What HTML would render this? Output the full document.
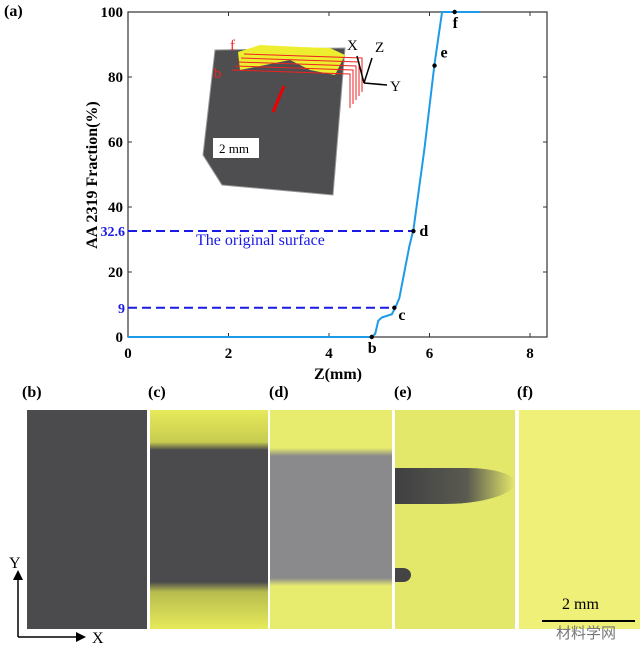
<!DOCTYPE html>
<html><head><meta charset="utf-8"><style>
body{margin:0;background:#fff;width:641px;height:661px;overflow:hidden;font-family:"Liberation Serif",serif}
.lbl{position:absolute;font-weight:bold;font-size:16px}
.pn{position:absolute;top:410px;height:219px;overflow:hidden}
</style></head><body>
<svg width="641" height="661" style="position:absolute;left:0;top:0">
<g id="chart"></g>
</svg>
<div class="lbl" style="left:4px;top:3px">(a)</div>
<div class="lbl" style="left:22px;top:384px">(b)</div>
<div class="lbl" style="left:148px;top:384px">(c)</div>
<div class="lbl" style="left:269px;top:384px">(d)</div>
<div class="lbl" style="left:394px;top:384px">(e)</div>
<div class="lbl" style="left:517px;top:384px">(f)</div>

<div class="pn" style="left:27px;width:120px;background:#4b4b4d"></div>
<div class="pn" style="left:150px;width:118px;background:linear-gradient(#e6ea5a 0,#c8cc50 32px,#4b4b4d 40px,#4b4b4d 172px,#b8bc4e 182px,#e6ea5a 219px)"></div>
<div class="pn" style="left:270px;width:122px;background:linear-gradient(#e8ec6e 0,#e8ec6e 38px,#8a8a8c 46px,#8a8a8c 168px,#e8ec6e 176px)"></div>
<div class="pn" style="left:395px;width:120px;background:#e4e86a">
<div style="position:absolute;left:0;top:58px;width:120px;height:36px;background:linear-gradient(90deg,#3f3f42,#5a5a50 60%,#e4e86a 100%);border-radius:0 40% 60% 0"></div>
<div style="position:absolute;left:0;top:158px;width:16px;height:14px;background:#444;border-radius:0 50% 50% 0"></div>
</div>
<div class="pn" style="left:519px;width:121px;background:#eef078"></div>
<div style="position:absolute;left:562px;top:596px;font-size:16px">2 mm</div>
<div style="position:absolute;left:542px;top:620px;width:93px;height:2px;background:#000"></div>
<div style="position:absolute;left:556px;top:622px;font-size:15px;color:#777;font-family:'Liberation Sans','Noto Sans CJK SC',sans-serif">材料学网</div>

<script>
const xTicks=[0,2,4,6,8];
const yTicks=[0,20,40,60,80,100];
const zVals=[0,4.85,4.92,4.98,5.05,5.15,5.25,5.32,5.4,5.5,5.6,5.68,5.9,6.1,6.25,7.0];
const fracVals=[0,0,1,5,6,6.5,7,9,12,20,28,33,58,84,100,100];
const markZ=[4.85,5.3,5.68,6.1,6.5];
const markF=[0,9,32.6,83.5,100];
const markLbl=['b','c','d','e','f'];
const refF=[9,32.6];
const refZ=[5.3,5.68];
const L=128,R=547,T=12,B=337;
const X=v=>L+(v/8)*(530-L);
const Y=v=>B-(v/100)*(B-T);
const g=document.getElementById('chart');
const NS='http://www.w3.org/2000/svg';
function mk(t,a){const e=document.createElementNS(NS,t);for(const k in a)e.setAttribute(k,a[k]);g.appendChild(e);return e;}
let fr=mk('rect',{x:L,y:T,width:R-L,height:B-T,fill:'none',stroke:'#333','stroke-width':1.2});


let blk=mk('polygon',{points:'203,155 215,50 345,48 333,195 222,185',fill:'#4e4e50',stroke:'#999'});


let yl=mk('polygon',{points:'238,52 260,45 300,47 330,48 345,55 335,75 310,70 290,60 240,70',fill:'#eeee30'});


for(let i=0;i<5;i++){let p=mk('polyline',{points:`${232+i*3},${70-i*4} ${350+i*3},${74-i*4} ${350+i*3},${108-i*4}`,fill:'none',stroke:'#e22','stroke-width':1});

}
let ar=mk('line',{x1:273,y1:112,x2:284,y2:86,stroke:'#e00','stroke-width':3});


let sbr=mk('rect',{x:213,y:138,width:46,height:20,fill:'#fff'});


let sbt=mk('text',{x:219,y:153,'font-size':13,'font-family':'Liberation Serif'});sbt.textContent='2 mm';


[['f',230,50],['b',214,78],['X',347,50],['Z',375,52],['Y',390,91]].forEach(([t,x,y])=>{let e=mk('text',{x,y,'font-size':15,fill:(t=='f'||t=='b')?'#e22':'#000','font-family':'Liberation Serif'});e.textContent=t;

});
let ax=mk('path',{d:'M364,83 L357,56 M364,83 L372,58 M364,83 L387,85',stroke:'#000','stroke-width':1.5,fill:'none'});


xTicks.forEach(v=>{let t=mk('line',{x1:X(v),x2:X(v),y1:B,y2:B-4,stroke:'#333'});


let tt=mk('line',{x1:X(v),x2:X(v),y1:T,y2:T+4,stroke:'#333'});


let l=mk('text',{x:X(v),y:B+21,'text-anchor':'middle','font-size':15,'font-weight':'bold'});l.textContent=v;

});
yTicks.forEach(v=>{let t=mk('line',{x1:L,x2:L+4,y1:Y(v),y2:Y(v),stroke:'#333'});


let tr=mk('line',{x1:R,x2:R-4,y1:Y(v),y2:Y(v),stroke:'#333'});


let l=mk('text',{x:L-5,y:Y(v)+5,'text-anchor':'end','font-size':15,'font-weight':'bold'});l.textContent=v;

});
refF.forEach((f,i)=>{let d=mk('line',{x1:L,x2:X(refZ[i]),y1:Y(f),y2:Y(f),stroke:'#1a1ae6','stroke-width':2,'stroke-dasharray':'9,5'});


let l=mk('text',{x:L-3,y:Y(f)+5,'text-anchor':'end','font-size':14,fill:'#1a1ae6','font-weight':'bold'});l.textContent=f;

});
let os=mk('text',{x:196,y:245,'font-size':16,fill:'#1a1ae6'});os.textContent='The original surface';


let pts=zVals.map((z,i)=>X(z)+','+Y(fracVals[i])).join(' ');
let ln=mk('polyline',{points:pts,fill:'none',stroke:'#1e9be8','stroke-width':2});


const off=[[-4,16],[4,12],[6,5],[6,-8],[-2,16]];
markZ.forEach((z,i)=>{let c=mk('circle',{cx:X(z),cy:Y(markF[i]),r:2.2,fill:'#000'});


let t=mk('text',{x:X(z)+off[i][0],y:Y(markF[i])+off[i][1],'font-size':16,'font-weight':'bold'});t.textContent=markLbl[i];

});
let xt=mk('text',{x:338,y:379,'text-anchor':'middle','font-size':16,'font-weight':'bold'});xt.textContent='Z(mm)';


let yt=mk('text',{x:0,y:0,'text-anchor':'middle','font-size':16,'font-weight':'bold',transform:'translate(97,175) rotate(-90)'});yt.textContent='AA 2319 Fraction(%)';


let xy=mk('path',{d:'M18,637 L18,578 M18,637 L80,637',stroke:'#000','stroke-width':1.5,fill:'none'});


let ah=mk('path',{d:'M13,580 L18,570 L23,580 Z M76,632 L86,637 L76,642 Z',fill:'#000'});


[['Y',9,568],['X',92,643]].forEach(([t,x,y])=>{let e=mk('text',{x,y,'font-size':16});e.textContent=t;

});
</script>
</body></html>
